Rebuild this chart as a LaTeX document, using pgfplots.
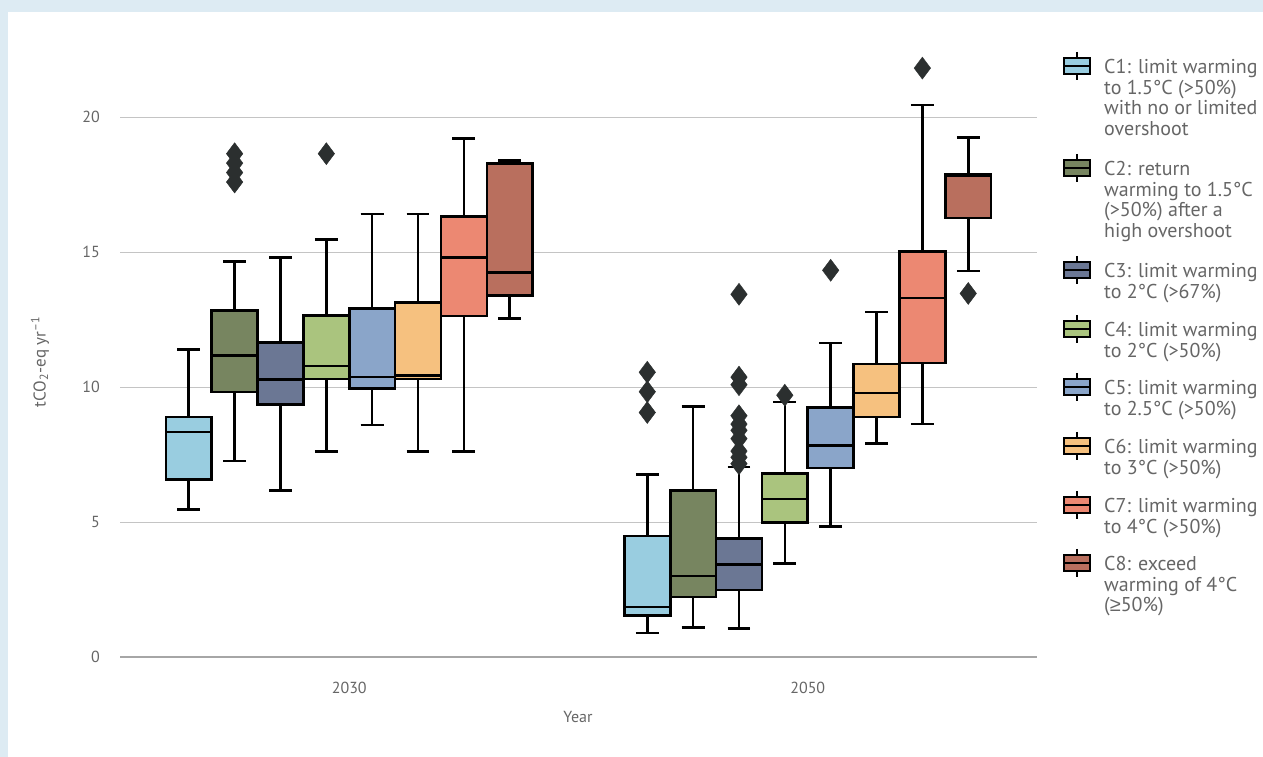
\documentclass[border=0pt]{standalone}
\usepackage{pgfplots}
\pgfplotsset{compat=1.18}
\usepgfplotslibrary{statistics}
\usepackage{fontspec}
\setmainfont{PT Sans}
\newfontfamily\symfont{Liberation Sans}
\definecolor{c1}{HTML}{99CDE0}
\definecolor{c2}{HTML}{778560}
\definecolor{c3}{HTML}{6B7794}
\definecolor{c4}{HTML}{AAC47E}
\definecolor{c5}{HTML}{8AA5C9}
\definecolor{c6}{HTML}{F6C17F}
\definecolor{c7}{HTML}{EC8872}
\definecolor{c8}{HTML}{B96F5E}
\definecolor{outl}{HTML}{2B2F2F}
\definecolor{txtgray}{HTML}{666666}
\definecolor{gridgray}{HTML}{C4C4C4}
\definecolor{axisgray}{HTML}{A6A6A6}
\definecolor{bgblue}{HTML}{DDEBF3}
\pgfplotsset{
  mybox/.style={draw=black, line width=2.4pt, fill=#1, solid,
    mark=diamond*, mark size=11pt,
    mark options={fill=outl, draw=outl, line width=0.4pt}},
}
\newcommand{\legentry}[3]{%
  \draw[line width=1.5pt] (1077,757-#2+14) -- (1077,757-#2-14);
  \filldraw[fill=#1, draw=black, line width=1.5pt] (1064,757-#2-8) rectangle (1090,757-#2+8);
  \draw[line width=1.5pt] (1064,757-#2) -- (1090,757-#2);
  \node[anchor=north west, inner sep=0pt, align=left, text=txtgray,
    font=\fontsize{20}{20.7}\selectfont] at (1104,757-#2+7) {#3};
}
\begin{document}
\begin{tikzpicture}
\begin{scope}[x=1pt,y=1pt]
\useasboundingbox (0,0) rectangle (1263,757);
\fill[bgblue] (0,0) rectangle (1263,757);
\fill[white] (8,0) rectangle (1263,745);
\end{scope}
\begin{axis}[
  at={(120pt,100pt)}, anchor=south west, scale only axis,
  width=917pt, height=618pt,
  xmin=-0.5, xmax=1.5, ymin=0, ymax=22.9,
  xtick={0,1}, xticklabels={2030,2050},
  ytick={0,5,10,15,20},
  ymajorgrids, grid style={line width=1.1pt, gridgray},
  axis x line*=bottom, axis y line*=left,
  x axis line style={line width=2.4pt, axisgray, -},
  y axis line style={draw=none},
  major tick length=0pt,
  /pgf/number format/assume math mode=true,
  tick label style={text=txtgray, font=\fontsize{16}{16}\selectfont},
  yticklabel style={inner sep=0pt, xshift=-20pt},
  xticklabel style={inner sep=0pt, yshift=-25pt},
  boxplot/draw direction=y,
  boxplot/box extend=0.1, boxplot/whisker extend=0.05,
  boxplot/every median/.style={line width=2.6pt},
  boxplot/every whisker/.style={line width=2.6pt},
  boxplot/every box/.style={line width=2.6pt},
  clip=false,
]
% 2030
\addplot[mybox=c1, boxplot prepared={draw position=-0.35, lower whisker=5.47, lower quartile=6.58, median=8.33, upper quartile=8.89, upper whisker=11.39}] coordinates {};
\addplot[mybox=c2, boxplot prepared={draw position=-0.25, lower whisker=7.26, lower quartile=9.82, median=11.17, upper quartile=12.84, upper whisker=14.65}] table[row sep=\\, y index=0] {17.6\\ 17.95\\ 18.3\\ 18.65\\};
\addplot[mybox=c3, boxplot prepared={draw position=-0.15, lower whisker=6.17, lower quartile=9.36, median=10.29, upper quartile=11.65, upper whisker=14.8}] coordinates {};
\addplot[mybox=c4, boxplot prepared={draw position=-0.05, lower whisker=7.61, lower quartile=10.3, median=10.78, upper quartile=12.65, upper whisker=15.47}] table[row sep=\\, y index=0] {18.65\\};
\addplot[mybox=c5, boxplot prepared={draw position=0.05, lower whisker=8.6, lower quartile=9.95, median=10.38, upper quartile=12.92, upper whisker=16.42}] coordinates {};
\addplot[mybox=c6, boxplot prepared={draw position=0.15, lower whisker=7.61, lower quartile=10.3, median=10.44, upper quartile=13.13, upper whisker=16.42}] coordinates {};
\addplot[mybox=c7, boxplot prepared={draw position=0.25, lower whisker=7.61, lower quartile=12.63, median=14.8, upper quartile=16.32, upper whisker=19.22}] coordinates {};
\addplot[mybox=c8, boxplot prepared={draw position=0.35, lower whisker=12.55, lower quartile=13.39, median=14.25, upper quartile=18.29, upper whisker=18.4}] coordinates {};
% 2050
\addplot[mybox=c1, boxplot prepared={draw position=0.65, lower whisker=0.89, lower quartile=1.53, median=1.86, upper quartile=4.48, upper whisker=6.76}] table[row sep=\\, y index=0] {9.06\\ 9.83\\ 10.55\\};
\addplot[mybox=c2, boxplot prepared={draw position=0.75, lower whisker=1.09, lower quartile=2.22, median=3.0, upper quartile=6.16, upper whisker=9.28}] coordinates {};
\addplot[mybox=c3, boxplot prepared={draw position=0.85, lower whisker=1.06, lower quartile=2.48, median=3.42, upper quartile=4.38, upper whisker=7.04}] table[row sep=\\, y index=0] {7.16\\ 7.4\\ 7.63\\ 8.09\\ 8.4\\ 8.63\\ 8.94\\ 10.09\\ 10.37\\ 13.44\\};
\addplot[mybox=c4, boxplot prepared={draw position=0.95, lower whisker=3.47, lower quartile=4.98, median=5.86, upper quartile=6.81, upper whisker=9.45}] table[row sep=\\, y index=0] {9.7\\};
\addplot[mybox=c5, boxplot prepared={draw position=1.05, lower whisker=4.84, lower quartile=7.0, median=7.83, upper quartile=9.24, upper whisker=11.63}] table[row sep=\\, y index=0] {14.33\\};
\addplot[mybox=c6, boxplot prepared={draw position=1.15, lower whisker=7.9, lower quartile=8.89, median=9.78, upper quartile=10.85, upper whisker=12.79}] coordinates {};
\addplot[mybox=c7, boxplot prepared={draw position=1.25, lower whisker=8.63, lower quartile=10.89, median=13.3, upper quartile=15.02, upper whisker=20.45}] table[row sep=\\, y index=0] {21.82\\};
\addplot[mybox=c8, boxplot prepared={draw position=1.35, lower whisker=14.3, lower quartile=16.26, median=17.84, upper quartile=17.87, upper whisker=19.24}] table[row sep=\\, y index=0] {13.47\\};
\end{axis}
\begin{scope}[x=1pt,y=1pt]
\node[text=txtgray, font=\fontsize{16}{16}\selectfont] at (578,757-717) {Year};
\node[rotate=90, text=txtgray, font=\fontsize{17}{17}\selectfont] at (40,757-362) {tCO\textsubscript{2}-eq yr\textsuperscript{–1}};
\legentry{c1}{66}{C1: limit warming\\to 1.5°C (>50\%)\\with no or limited\\overshoot}
\legentry{c2}{168}{C2: return\\warming to 1.5°C\\(>50\%) after a\\high overshoot}
\legentry{c3}{270}{C3: limit warming\\to 2°C (>67\%)}
\legentry{c4}{329}{C4: limit warming\\to 2°C (>50\%)}
\legentry{c5}{387}{C5: limit warming\\to 2.5°C (>50\%)}
\legentry{c6}{446}{C6: limit warming\\to 3°C (>50\%)}
\legentry{c7}{505}{C7: limit warming\\to 4°C (>50\%)}
\legentry{c8}{563}{C8: exceed\\warming of 4°C\\({\symfont ≥}50\%)}
\end{scope}
\end{tikzpicture}
\end{document}
